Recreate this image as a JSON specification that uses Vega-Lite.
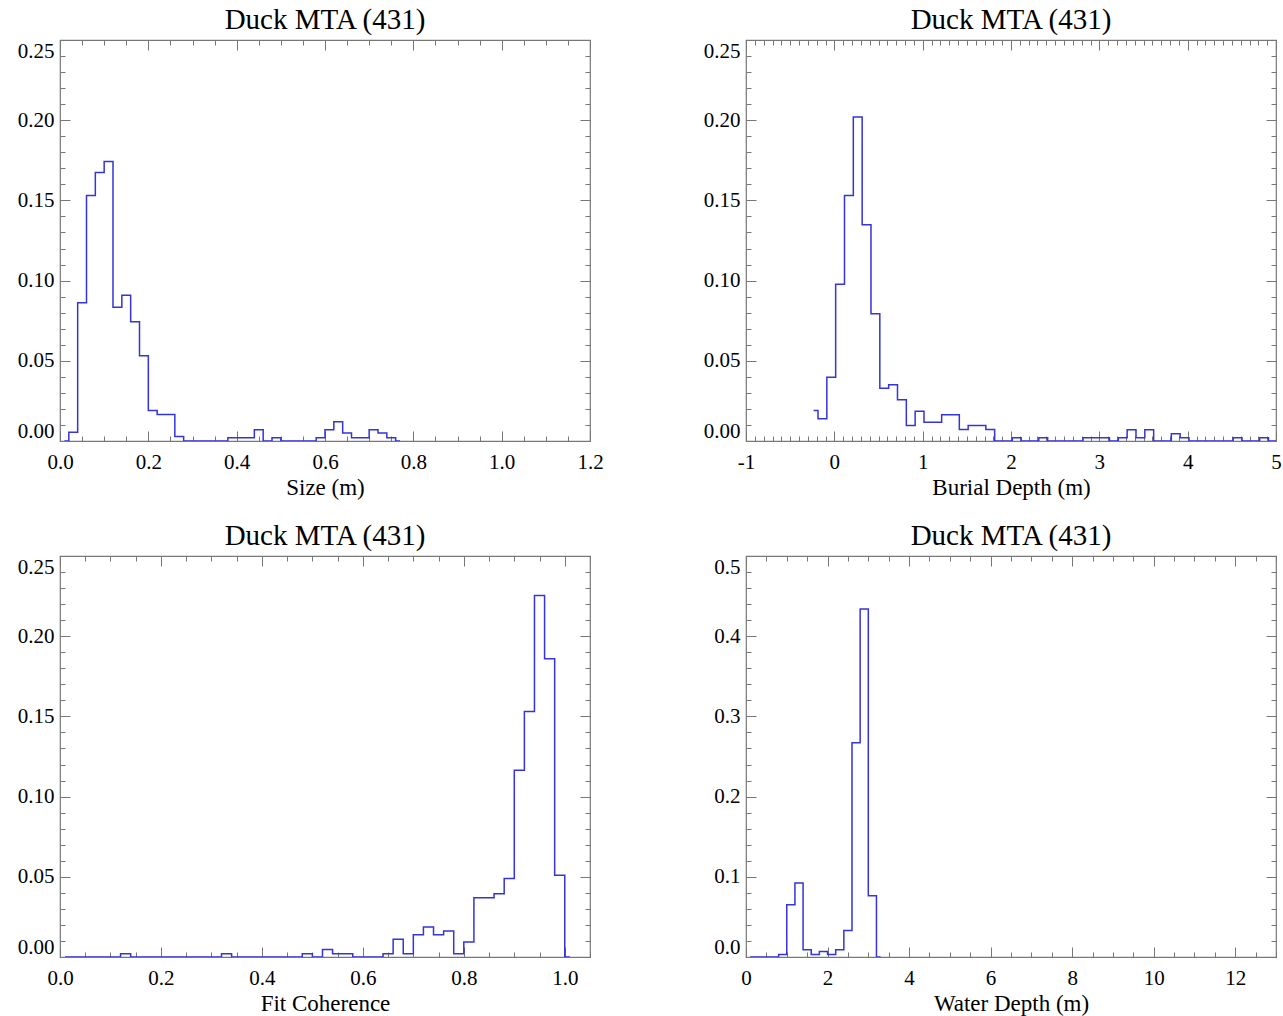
{
  "$schema": "https://vega.github.io/schema/vega-lite/v6.json",
  "background": "white",
  "padding": {"left": 16, "top": 4, "right": 4, "bottom": 4},
  "bounds": "flush",
  "columns": 2,
  "spacing": {"column": 156, "row": 115},
  "config": {
    "font": "Liberation Serif",
    "view": {"stroke": "#777777", "strokeWidth": 1.2},
    "axis": {
      "domain": false, "grid": false,
      "labelFont": "Liberation Serif", "labelFontSize": 21, "labelColor": "#000000",
      "titleFont": "Liberation Serif", "titleFontSize": 23, "titleFontWeight": "normal", "titleColor": "#000000",
      "tickColor": "#777777", "tickWidth": 1, "labelOverlap": false
    },
    "axisX": {"labelFlush": false, "labelPadding": 20, "titlePadding": 4},
    "axisY": {"labelFlush": true, "labelPadding": 16},
    "title": {"font": "Liberation Serif", "fontSize": 29, "fontWeight": "normal", "color": "#000000", "anchor": "middle", "baseline": "alphabetic", "offset": 5}
  },
  "datasets": {
    "size": [
      {"center": 0.01, "fraction": 0}, {"center": 0.03, "fraction": 0.0055}, {"center": 0.05, "fraction": 0.0862},
      {"center": 0.07, "fraction": 0.153}, {"center": 0.09, "fraction": 0.1674}, {"center": 0.11, "fraction": 0.1742},
      {"center": 0.13, "fraction": 0.0834}, {"center": 0.15, "fraction": 0.0909}, {"center": 0.17, "fraction": 0.0743},
      {"center": 0.19, "fraction": 0.0531}, {"center": 0.21, "fraction": 0.019}, {"center": 0.23, "fraction": 0.0165},
      {"center": 0.25, "fraction": 0.0165}, {"center": 0.27, "fraction": 0.0028}, {"center": 0.29, "fraction": 0},
      {"center": 0.31, "fraction": 0}, {"center": 0.33, "fraction": 0}, {"center": 0.35, "fraction": 0},
      {"center": 0.37, "fraction": 0}, {"center": 0.39, "fraction": 0.002}, {"center": 0.41, "fraction": 0.002},
      {"center": 0.43, "fraction": 0.002}, {"center": 0.45, "fraction": 0.007}, {"center": 0.47, "fraction": 0},
      {"center": 0.49, "fraction": 0.002}, {"center": 0.51, "fraction": 0}, {"center": 0.53, "fraction": 0},
      {"center": 0.55, "fraction": 0}, {"center": 0.57, "fraction": 0}, {"center": 0.59, "fraction": 0.002},
      {"center": 0.61, "fraction": 0.007}, {"center": 0.63, "fraction": 0.012}, {"center": 0.65, "fraction": 0.005},
      {"center": 0.67, "fraction": 0.002}, {"center": 0.69, "fraction": 0.002}, {"center": 0.71, "fraction": 0.007},
      {"center": 0.73, "fraction": 0.005}, {"center": 0.75, "fraction": 0.002}, {"center": 0.77, "fraction": 0}
    ],
    "burial": [
      {"center": -0.235, "fraction": 0.019}, {"center": -0.135, "fraction": 0.0138}, {"center": -0.035, "fraction": 0.0398},
      {"center": 0.065, "fraction": 0.0978}, {"center": 0.165, "fraction": 0.153}, {"center": 0.265, "fraction": 0.202},
      {"center": 0.365, "fraction": 0.1348}, {"center": 0.465, "fraction": 0.0793}, {"center": 0.565, "fraction": 0.0329},
      {"center": 0.665, "fraction": 0.035}, {"center": 0.765, "fraction": 0.0257}, {"center": 0.865, "fraction": 0.0097},
      {"center": 0.965, "fraction": 0.0186}, {"center": 1.065, "fraction": 0.0117}, {"center": 1.165, "fraction": 0.0117},
      {"center": 1.265, "fraction": 0.0163}, {"center": 1.365, "fraction": 0.0163}, {"center": 1.465, "fraction": 0.0072},
      {"center": 1.565, "fraction": 0.0097}, {"center": 1.665, "fraction": 0.0097}, {"center": 1.765, "fraction": 0.0072},
      {"center": 1.865, "fraction": 0}, {"center": 1.965, "fraction": 0}, {"center": 2.065, "fraction": 0.002},
      {"center": 2.165, "fraction": 0}, {"center": 2.265, "fraction": 0}, {"center": 2.365, "fraction": 0.002},
      {"center": 2.465, "fraction": 0}, {"center": 2.565, "fraction": 0}, {"center": 2.665, "fraction": 0},
      {"center": 2.765, "fraction": 0}, {"center": 2.865, "fraction": 0.002}, {"center": 2.965, "fraction": 0.002},
      {"center": 3.065, "fraction": 0.002}, {"center": 3.165, "fraction": 0}, {"center": 3.265, "fraction": 0.002},
      {"center": 3.365, "fraction": 0.007}, {"center": 3.465, "fraction": 0.002}, {"center": 3.565, "fraction": 0.007},
      {"center": 3.665, "fraction": 0}, {"center": 3.765, "fraction": 0}, {"center": 3.865, "fraction": 0.0045},
      {"center": 3.965, "fraction": 0.002}, {"center": 4.065, "fraction": 0}, {"center": 4.165, "fraction": 0},
      {"center": 4.265, "fraction": 0}, {"center": 4.365, "fraction": 0}, {"center": 4.465, "fraction": 0},
      {"center": 4.565, "fraction": 0.002}, {"center": 4.665, "fraction": 0}, {"center": 4.765, "fraction": 0},
      {"center": 4.865, "fraction": 0.002}, {"center": 4.965, "fraction": 0}, {"center": 5.065, "fraction": 0}
    ],
    "coherence": [
      {"center": 0.01, "fraction": 0}, {"center": 0.03, "fraction": 0}, {"center": 0.05, "fraction": 0},
      {"center": 0.07, "fraction": 0}, {"center": 0.09, "fraction": 0}, {"center": 0.11, "fraction": 0},
      {"center": 0.13, "fraction": 0.002}, {"center": 0.15, "fraction": 0}, {"center": 0.17, "fraction": 0},
      {"center": 0.19, "fraction": 0}, {"center": 0.21, "fraction": 0}, {"center": 0.23, "fraction": 0},
      {"center": 0.25, "fraction": 0}, {"center": 0.27, "fraction": 0}, {"center": 0.29, "fraction": 0},
      {"center": 0.31, "fraction": 0}, {"center": 0.33, "fraction": 0.002}, {"center": 0.35, "fraction": 0},
      {"center": 0.37, "fraction": 0}, {"center": 0.39, "fraction": 0}, {"center": 0.41, "fraction": 0},
      {"center": 0.43, "fraction": 0}, {"center": 0.45, "fraction": 0}, {"center": 0.47, "fraction": 0},
      {"center": 0.49, "fraction": 0.002}, {"center": 0.51, "fraction": 0}, {"center": 0.53, "fraction": 0.0046},
      {"center": 0.55, "fraction": 0.002}, {"center": 0.57, "fraction": 0.002}, {"center": 0.59, "fraction": 0},
      {"center": 0.61, "fraction": 0}, {"center": 0.63, "fraction": 0}, {"center": 0.65, "fraction": 0.002},
      {"center": 0.67, "fraction": 0.011}, {"center": 0.69, "fraction": 0.002}, {"center": 0.71, "fraction": 0.0139},
      {"center": 0.73, "fraction": 0.0187}, {"center": 0.75, "fraction": 0.0139}, {"center": 0.77, "fraction": 0.0162},
      {"center": 0.79, "fraction": 0.002}, {"center": 0.81, "fraction": 0.0093}, {"center": 0.83, "fraction": 0.037},
      {"center": 0.85, "fraction": 0.037}, {"center": 0.87, "fraction": 0.0395}, {"center": 0.89, "fraction": 0.049},
      {"center": 0.91, "fraction": 0.1165}, {"center": 0.93, "fraction": 0.153}, {"center": 0.95, "fraction": 0.2254},
      {"center": 0.97, "fraction": 0.186}, {"center": 0.99, "fraction": 0.051}, {"center": 1.01, "fraction": 0}
    ],
    "water": [
      {"center": 0.1, "fraction": 0}, {"center": 0.3, "fraction": 0}, {"center": 0.5, "fraction": 0},
      {"center": 0.7, "fraction": 0}, {"center": 0.9, "fraction": 0.003}, {"center": 1.1, "fraction": 0.065},
      {"center": 1.3, "fraction": 0.0923}, {"center": 1.5, "fraction": 0.009}, {"center": 1.7, "fraction": 0.003},
      {"center": 1.9, "fraction": 0.007}, {"center": 2.1, "fraction": 0.003}, {"center": 2.3, "fraction": 0.009},
      {"center": 2.5, "fraction": 0.033}, {"center": 2.7, "fraction": 0.267}, {"center": 2.9, "fraction": 0.434},
      {"center": 3.1, "fraction": 0.0765}, {"center": 3.3, "fraction": 0}
    ]
  },
  "concat": [
    {
      "width": 530, "height": 401,
      "title": {"text": "Duck MTA (431)"},
      "data": {"name": "size"},
      "resolve": {"axis": {"x": "independent", "y": "independent"}},
      "layer": [
        {
          "mark": {"type": "line", "interpolate": "step", "color": "#3434d8", "strokeWidth": 1.5, "clip": true},
          "encoding": {
            "x": {"field": "center", "type": "quantitative", "scale": {"domain": [0, 1.2], "nice": false, "zero": false},
                  "axis": {"orient": "bottom", "values": [0, 0.2, 0.4, 0.6, 0.8, 1.0, 1.2], "format": ".1f", "title": "Size (m)", "tickSize": -10}},
            "y": {"field": "fraction", "type": "quantitative", "scale": {"domain": [0, 0.25], "nice": false},
                  "axis": {"orient": "left", "values": [0, 0.05, 0.1, 0.15, 0.2, 0.25], "format": ".2f", "title": null, "tickSize": -10}}
          }
        },
        {
          "mark": {"type": "line", "strokeOpacity": 0},
          "encoding": {
            "x": {"field": "center", "type": "quantitative", "axis": {"orient": "top", "values": [0, 0.2, 0.4, 0.6, 0.8, 1.0, 1.2], "labels": false, "title": null, "tickSize": -10}},
            "y": {"field": "fraction", "type": "quantitative", "axis": {"orient": "right", "values": [0, 0.05, 0.1, 0.15, 0.2, 0.25], "labels": false, "title": null, "tickSize": -10}}
          }
        },
        {
          "mark": {"type": "line", "strokeOpacity": 0},
          "encoding": {
            "x": {"field": "center", "type": "quantitative", "axis": {"orient": "bottom", "values": [0, 0.05, 0.1, 0.15, 0.2, 0.25, 0.3, 0.35, 0.4, 0.45, 0.5, 0.55, 0.6, 0.65, 0.7, 0.75, 0.8, 0.85, 0.9, 0.95, 1.0, 1.05, 1.1, 1.15, 1.2], "labels": false, "title": null, "tickSize": -5}},
            "y": {"field": "fraction", "type": "quantitative", "axis": {"orient": "left", "values": [0, 0.01, 0.02, 0.03, 0.04, 0.05, 0.06, 0.07, 0.08, 0.09, 0.1, 0.11, 0.12, 0.13, 0.14, 0.15, 0.16, 0.17, 0.18, 0.19, 0.2, 0.21, 0.22, 0.23, 0.24, 0.25], "labels": false, "title": null, "tickSize": -5}}
          }
        },
        {
          "mark": {"type": "line", "strokeOpacity": 0},
          "encoding": {
            "x": {"field": "center", "type": "quantitative", "axis": {"orient": "top", "values": [0, 0.05, 0.1, 0.15, 0.2, 0.25, 0.3, 0.35, 0.4, 0.45, 0.5, 0.55, 0.6, 0.65, 0.7, 0.75, 0.8, 0.85, 0.9, 0.95, 1.0, 1.05, 1.1, 1.15, 1.2], "labels": false, "title": null, "tickSize": -5}},
            "y": {"field": "fraction", "type": "quantitative", "axis": {"orient": "right", "values": [0, 0.01, 0.02, 0.03, 0.04, 0.05, 0.06, 0.07, 0.08, 0.09, 0.1, 0.11, 0.12, 0.13, 0.14, 0.15, 0.16, 0.17, 0.18, 0.19, 0.2, 0.21, 0.22, 0.23, 0.24, 0.25], "labels": false, "title": null, "tickSize": -5}}
          }
        }
      ]
    },
    {
      "width": 530, "height": 401,
      "title": {"text": "Duck MTA (431)"},
      "data": {"name": "burial"},
      "resolve": {"axis": {"x": "independent", "y": "independent"}},
      "layer": [
        {
          "mark": {"type": "line", "interpolate": "step", "color": "#3434d8", "strokeWidth": 1.5, "clip": true},
          "encoding": {
            "x": {"field": "center", "type": "quantitative", "scale": {"domain": [-1, 5], "nice": false, "zero": false},
                  "axis": {"orient": "bottom", "values": [-1, 0, 1, 2, 3, 4, 5], "labelExpr": "datum.value < 0 ? '-' + format(-datum.value, 'd') : format(datum.value, 'd')", "title": "Burial Depth (m)", "tickSize": -10}},
            "y": {"field": "fraction", "type": "quantitative", "scale": {"domain": [0, 0.25], "nice": false},
                  "axis": {"orient": "left", "values": [0, 0.05, 0.1, 0.15, 0.2, 0.25], "format": ".2f", "title": null, "tickSize": -10}}
          }
        },
        {
          "mark": {"type": "line", "strokeOpacity": 0},
          "encoding": {
            "x": {"field": "center", "type": "quantitative", "axis": {"orient": "top", "values": [-1, 0, 1, 2, 3, 4, 5], "labels": false, "title": null, "tickSize": -10}},
            "y": {"field": "fraction", "type": "quantitative", "axis": {"orient": "right", "values": [0, 0.05, 0.1, 0.15, 0.2, 0.25], "labels": false, "title": null, "tickSize": -10}}
          }
        },
        {
          "mark": {"type": "line", "strokeOpacity": 0},
          "encoding": {
            "x": {"field": "center", "type": "quantitative", "axis": {"orient": "bottom", "values": [-1, -0.9, -0.8, -0.7, -0.6, -0.5, -0.4, -0.3, -0.2, -0.1, 0, 0.1, 0.2, 0.3, 0.4, 0.5, 0.6, 0.7, 0.8, 0.9, 1, 1.1, 1.2, 1.3, 1.4, 1.5, 1.6, 1.7, 1.8, 1.9, 2, 2.1, 2.2, 2.3, 2.4, 2.5, 2.6, 2.7, 2.8, 2.9, 3, 3.1, 3.2, 3.3, 3.4, 3.5, 3.6, 3.7, 3.8, 3.9, 4, 4.1, 4.2, 4.3, 4.4, 4.5, 4.6, 4.7, 4.8, 4.9, 5], "labels": false, "title": null, "tickSize": -5}},
            "y": {"field": "fraction", "type": "quantitative", "axis": {"orient": "left", "values": [0, 0.01, 0.02, 0.03, 0.04, 0.05, 0.06, 0.07, 0.08, 0.09, 0.1, 0.11, 0.12, 0.13, 0.14, 0.15, 0.16, 0.17, 0.18, 0.19, 0.2, 0.21, 0.22, 0.23, 0.24, 0.25], "labels": false, "title": null, "tickSize": -5}}
          }
        },
        {
          "mark": {"type": "line", "strokeOpacity": 0},
          "encoding": {
            "x": {"field": "center", "type": "quantitative", "axis": {"orient": "top", "values": [-1, -0.9, -0.8, -0.7, -0.6, -0.5, -0.4, -0.3, -0.2, -0.1, 0, 0.1, 0.2, 0.3, 0.4, 0.5, 0.6, 0.7, 0.8, 0.9, 1, 1.1, 1.2, 1.3, 1.4, 1.5, 1.6, 1.7, 1.8, 1.9, 2, 2.1, 2.2, 2.3, 2.4, 2.5, 2.6, 2.7, 2.8, 2.9, 3, 3.1, 3.2, 3.3, 3.4, 3.5, 3.6, 3.7, 3.8, 3.9, 4, 4.1, 4.2, 4.3, 4.4, 4.5, 4.6, 4.7, 4.8, 4.9, 5], "labels": false, "title": null, "tickSize": -5}},
            "y": {"field": "fraction", "type": "quantitative", "axis": {"orient": "right", "values": [0, 0.01, 0.02, 0.03, 0.04, 0.05, 0.06, 0.07, 0.08, 0.09, 0.1, 0.11, 0.12, 0.13, 0.14, 0.15, 0.16, 0.17, 0.18, 0.19, 0.2, 0.21, 0.22, 0.23, 0.24, 0.25], "labels": false, "title": null, "tickSize": -5}}
          }
        }
      ]
    },
    {
      "width": 530, "height": 401,
      "title": {"text": "Duck MTA (431)"},
      "data": {"name": "coherence"},
      "resolve": {"axis": {"x": "independent", "y": "independent"}},
      "layer": [
        {
          "mark": {"type": "line", "interpolate": "step", "color": "#3434d8", "strokeWidth": 1.5, "clip": true},
          "encoding": {
            "x": {"field": "center", "type": "quantitative", "scale": {"domain": [0, 1.05], "nice": false, "zero": false},
                  "axis": {"orient": "bottom", "values": [0, 0.2, 0.4, 0.6, 0.8, 1.0], "format": ".1f", "title": "Fit Coherence", "tickSize": -10}},
            "y": {"field": "fraction", "type": "quantitative", "scale": {"domain": [0, 0.25], "nice": false},
                  "axis": {"orient": "left", "values": [0, 0.05, 0.1, 0.15, 0.2, 0.25], "format": ".2f", "title": null, "tickSize": -10}}
          }
        },
        {
          "mark": {"type": "line", "strokeOpacity": 0},
          "encoding": {
            "x": {"field": "center", "type": "quantitative", "axis": {"orient": "top", "values": [0, 0.2, 0.4, 0.6, 0.8, 1.0], "labels": false, "title": null, "tickSize": -10}},
            "y": {"field": "fraction", "type": "quantitative", "axis": {"orient": "right", "values": [0, 0.05, 0.1, 0.15, 0.2, 0.25], "labels": false, "title": null, "tickSize": -10}}
          }
        },
        {
          "mark": {"type": "line", "strokeOpacity": 0},
          "encoding": {
            "x": {"field": "center", "type": "quantitative", "axis": {"orient": "bottom", "values": [0, 0.05, 0.1, 0.15, 0.2, 0.25, 0.3, 0.35, 0.4, 0.45, 0.5, 0.55, 0.6, 0.65, 0.7, 0.75, 0.8, 0.85, 0.9, 0.95, 1.0, 1.05], "labels": false, "title": null, "tickSize": -5}},
            "y": {"field": "fraction", "type": "quantitative", "axis": {"orient": "left", "values": [0, 0.01, 0.02, 0.03, 0.04, 0.05, 0.06, 0.07, 0.08, 0.09, 0.1, 0.11, 0.12, 0.13, 0.14, 0.15, 0.16, 0.17, 0.18, 0.19, 0.2, 0.21, 0.22, 0.23, 0.24, 0.25], "labels": false, "title": null, "tickSize": -5}}
          }
        },
        {
          "mark": {"type": "line", "strokeOpacity": 0},
          "encoding": {
            "x": {"field": "center", "type": "quantitative", "axis": {"orient": "top", "values": [0, 0.05, 0.1, 0.15, 0.2, 0.25, 0.3, 0.35, 0.4, 0.45, 0.5, 0.55, 0.6, 0.65, 0.7, 0.75, 0.8, 0.85, 0.9, 0.95, 1.0, 1.05], "labels": false, "title": null, "tickSize": -5}},
            "y": {"field": "fraction", "type": "quantitative", "axis": {"orient": "right", "values": [0, 0.01, 0.02, 0.03, 0.04, 0.05, 0.06, 0.07, 0.08, 0.09, 0.1, 0.11, 0.12, 0.13, 0.14, 0.15, 0.16, 0.17, 0.18, 0.19, 0.2, 0.21, 0.22, 0.23, 0.24, 0.25], "labels": false, "title": null, "tickSize": -5}}
          }
        }
      ]
    },
    {
      "width": 530, "height": 401,
      "title": {"text": "Duck MTA (431)"},
      "data": {"name": "water"},
      "resolve": {"axis": {"x": "independent", "y": "independent"}},
      "layer": [
        {
          "mark": {"type": "line", "interpolate": "step", "color": "#3434d8", "strokeWidth": 1.5, "clip": true},
          "encoding": {
            "x": {"field": "center", "type": "quantitative", "scale": {"domain": [0, 13], "nice": false, "zero": false},
                  "axis": {"orient": "bottom", "values": [0, 2, 4, 6, 8, 10, 12], "format": "d", "title": "Water Depth (m)", "tickSize": -10}},
            "y": {"field": "fraction", "type": "quantitative", "scale": {"domain": [0, 0.5], "nice": false},
                  "axis": {"orient": "left", "values": [0, 0.1, 0.2, 0.3, 0.4, 0.5], "format": ".1f", "title": null, "tickSize": -10}}
          }
        },
        {
          "mark": {"type": "line", "strokeOpacity": 0},
          "encoding": {
            "x": {"field": "center", "type": "quantitative", "axis": {"orient": "top", "values": [0, 2, 4, 6, 8, 10, 12], "labels": false, "title": null, "tickSize": -10}},
            "y": {"field": "fraction", "type": "quantitative", "axis": {"orient": "right", "values": [0, 0.1, 0.2, 0.3, 0.4, 0.5], "labels": false, "title": null, "tickSize": -10}}
          }
        },
        {
          "mark": {"type": "line", "strokeOpacity": 0},
          "encoding": {
            "x": {"field": "center", "type": "quantitative", "axis": {"orient": "bottom", "values": [0, 0.5, 1, 1.5, 2, 2.5, 3, 3.5, 4, 4.5, 5, 5.5, 6, 6.5, 7, 7.5, 8, 8.5, 9, 9.5, 10, 10.5, 11, 11.5, 12, 12.5, 13], "labels": false, "title": null, "tickSize": -5}},
            "y": {"field": "fraction", "type": "quantitative", "axis": {"orient": "left", "values": [0, 0.02, 0.04, 0.06, 0.08, 0.1, 0.12, 0.14, 0.16, 0.18, 0.2, 0.22, 0.24, 0.26, 0.28, 0.3, 0.32, 0.34, 0.36, 0.38, 0.4, 0.42, 0.44, 0.46, 0.48, 0.5], "labels": false, "title": null, "tickSize": -5}}
          }
        },
        {
          "mark": {"type": "line", "strokeOpacity": 0},
          "encoding": {
            "x": {"field": "center", "type": "quantitative", "axis": {"orient": "top", "values": [0, 0.5, 1, 1.5, 2, 2.5, 3, 3.5, 4, 4.5, 5, 5.5, 6, 6.5, 7, 7.5, 8, 8.5, 9, 9.5, 10, 10.5, 11, 11.5, 12, 12.5, 13], "labels": false, "title": null, "tickSize": -5}},
            "y": {"field": "fraction", "type": "quantitative", "axis": {"orient": "right", "values": [0, 0.02, 0.04, 0.06, 0.08, 0.1, 0.12, 0.14, 0.16, 0.18, 0.2, 0.22, 0.24, 0.26, 0.28, 0.3, 0.32, 0.34, 0.36, 0.38, 0.4, 0.42, 0.44, 0.46, 0.48, 0.5], "labels": false, "title": null, "tickSize": -5}}
          }
        }
      ]
    }
  ]
}
